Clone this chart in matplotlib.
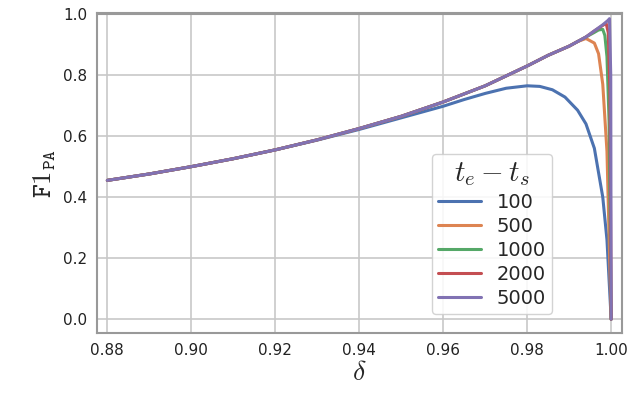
import matplotlib
matplotlib.use("Agg")
import matplotlib.pyplot as plt
import seaborn as sns

sns.set_style("whitegrid")
plt.rcParams["font.family"] = ["DejaVu Sans"]
plt.rcParams["mathtext.fontset"] = "cm"

# common rising part shared by all curves
base_x = [0.88, 0.89, 0.90, 0.91, 0.92, 0.93, 0.94, 0.95, 0.96, 0.97, 0.98, 0.985, 0.99]
base_y = [0.455, 0.476, 0.500, 0.526, 0.555, 0.588, 0.625, 0.665, 0.712, 0.765, 0.830, 0.865, 0.895]

x_100 = [0.88, 0.89, 0.90, 0.91, 0.92, 0.93, 0.94, 0.95, 0.96, 0.965, 0.97, 0.975, 0.98, 0.983,
         0.986, 0.989, 0.992, 0.994, 0.996, 0.998, 0.999, 1.0]
y_100 = [0.455, 0.476, 0.500, 0.526, 0.555, 0.587, 0.622, 0.660, 0.698, 0.720, 0.740, 0.757, 0.765, 0.763,
         0.752, 0.728, 0.685, 0.640, 0.560, 0.400, 0.260, 0.0]
x_500 = base_x + [0.992, 0.994, 0.996, 0.997, 0.998, 0.999, 1.0]
y_500 = base_y + [0.910, 0.920, 0.905, 0.870, 0.770, 0.550, 0.0]
x_1000 = base_x + [0.992, 0.994, 0.996, 0.997, 0.998, 0.9985, 0.999, 0.9995, 1.0]
y_1000 = base_y + [0.910, 0.925, 0.940, 0.948, 0.950, 0.930, 0.860, 0.650, 0.0]
x_2000 = base_x + [0.992, 0.994, 0.996, 0.998, 0.9988, 0.9993, 0.9997, 1.0]
y_2000 = base_y + [0.910, 0.925, 0.945, 0.963, 0.970, 0.940, 0.750, 0.0]
x_5000 = base_x + [0.992, 0.994, 0.996, 0.998, 0.9993, 0.9996, 0.9999, 1.0]
y_5000 = base_y + [0.910, 0.925, 0.945, 0.965, 0.980, 0.985, 0.800, 0.0]

series = [("100", x_100, y_100), ("500", x_500, y_500), ("1000", x_1000, y_1000),
          ("2000", x_2000, y_2000), ("5000", x_5000, y_5000)]
colors = sns.color_palette("deep", 5)

fig = plt.figure(figsize=(6.4, 4.12), dpi=100)
ax = fig.add_axes([0.152, 0.192, 0.82, 0.776])
for (label, xs, ys), color in zip(series, colors):
    ax.plot(xs, ys, color=color, lw=2.2, label=label)

ax.set_xlim(0.8776, 1.0026)
ax.set_ylim(-0.045, 1.003)
ax.set_xticks([0.88, 0.90, 0.92, 0.94, 0.96, 0.98, 1.00])
ax.set_yticks([0.0, 0.2, 0.4, 0.6, 0.8, 1.0])
ax.tick_params(labelsize=11, colors="#222222")
ax.grid(color="#c8c8c8", lw=1.2)
for spine in ax.spines.values():
    spine.set_color("#999999")
    spine.set_linewidth(1.5)
ax.axhline(1.0, color="#999999", lw=1.5)
ax.set_xlabel(r"$\delta$", fontsize=20, labelpad=0)
ax.set_ylabel(r"$\mathtt{F1}_{\mathtt{PA}}$", fontsize=19, labelpad=4)
ax.legend(title=r"$t_e - t_s$", fontsize=14, title_fontsize=21,
          loc="lower left", bbox_to_anchor=(0.62, 0.03), handlelength=2.2,
          labelspacing=0.25, borderpad=0.3, framealpha=0.85)

fig.savefig("out.png", dpi=100)
